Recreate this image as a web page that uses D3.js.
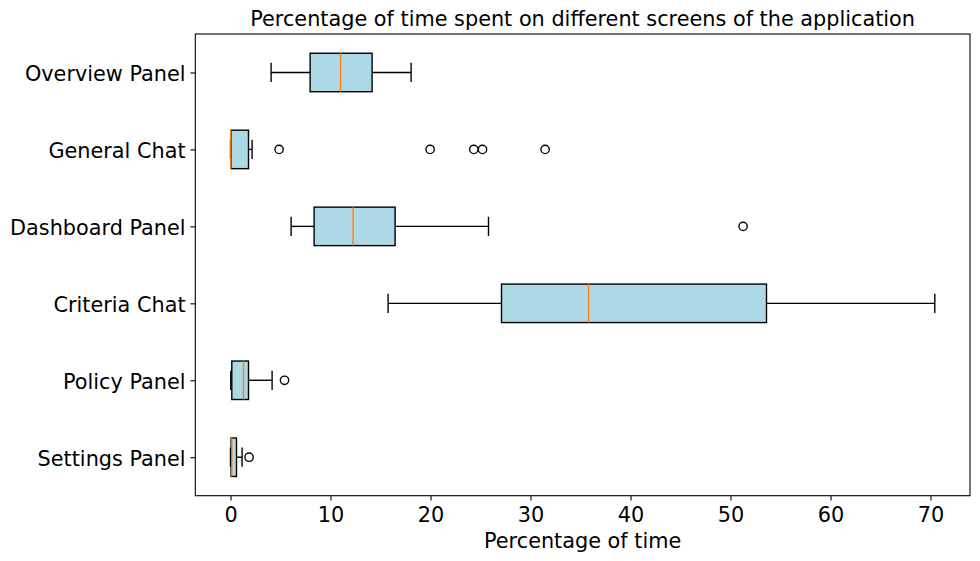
<!DOCTYPE html>
<html>
<head>
<meta charset="utf-8">
<script src="https://cdn.jsdelivr.net/npm/d3@7"></script>
<style>
  body { margin: 0; background: #fff; }
  svg { font-family: "DejaVu Sans", sans-serif; }
</style>
</head>
<body>
<svg id="chart" width="980" height="561"></svg>
<script>
// screens, listed top to bottom as drawn
const screens = ["Overview Panel", "General Chat", "Dashboard Panel",
  "Criteria Chat", "Policy Panel", "Settings Panel"];
const whiskerLow = [4.06, 0.0, 6.06, 15.76, 0.03, 0.0];
const q1 = [7.96, 0.06, 8.36, 27.1, 0.13, 0.06];
const median = [11.0, 0.03, 12.26, 35.8, 1.3, 0.13];
const q3 = [14.16, 1.8, 16.46, 53.6, 1.8, 0.6];
const whiskerHigh = [18.06, 2.16, 25.8, 70.43, 4.16, 1.16];
const outliers = [
  [],
  [4.86, 19.96, 24.33, 25.2, 31.46],
  [51.26],
  [],
  [5.4],
  [1.86],
];
const xTicks = [0, 10, 20, 30, 40, 50, 60, 70];

const margin = {top: 34, right: 10, bottom: 65.3, left: 195.3};
const width = 980;
const height = 561;
const fontPx = 20.8;

const svg = d3.select("#chart");

const x = d3.scaleLinear()
  .domain([-3.52, 73.95])
  .range([margin.left, width - margin.right]);

// position 1 is the bottom box, like matplotlib's vert=False
const y = d3.scaleLinear()
  .domain([0.5, 6.5])
  .range([height - margin.bottom, margin.top]);

const pos = (i) => screens.length - i;
const boxHalf = Math.abs(y(0.25) - y(0));
const capHalf = boxHalf / 2;
const lw = 1.39;

const boxes = svg.append("g");
screens.forEach((s, i) => {
  const cy = y(pos(i));
  const g = boxes.append("g");
  // whiskers
  g.append("line")
    .attr("x1", x(whiskerLow[i])).attr("x2", x(q1[i]))
    .attr("y1", cy).attr("y2", cy)
    .attr("stroke", "#000").attr("stroke-width", lw);
  g.append("line")
    .attr("x1", x(q3[i])).attr("x2", x(whiskerHigh[i]))
    .attr("y1", cy).attr("y2", cy)
    .attr("stroke", "#000").attr("stroke-width", lw);
  // caps
  [whiskerLow[i], whiskerHigh[i]].forEach((v) => {
    g.append("line")
      .attr("x1", x(v)).attr("x2", x(v))
      .attr("y1", cy - capHalf).attr("y2", cy + capHalf)
      .attr("stroke", "#000").attr("stroke-width", lw);
  });
  // box
  g.append("rect")
    .attr("x", x(q1[i]))
    .attr("y", cy - boxHalf)
    .attr("width", x(q3[i]) - x(q1[i]))
    .attr("height", 2 * boxHalf)
    .attr("fill", "#add8e6")
    .attr("stroke", "#000")
    .attr("stroke-width", lw);
  // median
  g.append("line")
    .attr("x1", x(median[i])).attr("x2", x(median[i]))
    .attr("y1", cy - boxHalf).attr("y2", cy + boxHalf)
    .attr("stroke", "#ff7f0e").attr("stroke-width", lw);
  // fliers
  outliers[i].forEach((v) => {
    g.append("circle")
      .attr("cx", x(v)).attr("cy", cy).attr("r", 4.17)
      .attr("fill", "none")
      .attr("stroke", "#000").attr("stroke-width", lw);
  });
});

// frame
svg.append("rect")
  .attr("x", margin.left).attr("y", margin.top)
  .attr("width", width - margin.right - margin.left)
  .attr("height", height - margin.bottom - margin.top)
  .attr("fill", "none").attr("stroke", "#000").attr("stroke-width", 1.1);

const xAxis = (g) => g
  .attr("transform", `translate(0,${height - margin.bottom})`)
  .call(d3.axisBottom(x).tickValues(xTicks).tickSize(4.86).tickPadding(4.86)
    .tickFormat(d3.format("d")))
  .call((g) => g.select(".domain").remove())
  .call((g) => g.selectAll("line").attr("stroke-width", 1.1))
  .call((g) => g.selectAll("text")
    .attr("font-size", fontPx).attr("font-family", "DejaVu Sans")
    .attr("dy", "0.78em").attr("fill", "#000"));

const yAxis = (g) => g
  .attr("transform", `translate(${margin.left},0)`)
  .call(d3.axisLeft(y).tickValues(screens.map((s, i) => pos(i)))
    .tickSize(4.86).tickPadding(4.86)
    .tickFormat((d) => screens[screens.length - d]))
  .call((g) => g.select(".domain").remove())
  .call((g) => g.selectAll("line").attr("stroke-width", 1.1))
  .call((g) => g.selectAll("text")
    .attr("font-size", fontPx).attr("font-family", "DejaVu Sans")
    .attr("dy", "0.4em").attr("fill", "#000"));

svg.append("g").call(xAxis);
svg.append("g").call(yAxis);

svg.append("text")
  .attr("x", (margin.left + width - margin.right) / 2)
  .attr("y", margin.top - 8.3)
  .attr("text-anchor", "middle")
  .attr("font-size", fontPx)
  .text("Percentage of time spent on different screens of the application");

svg.append("text")
  .attr("x", (margin.left + width - margin.right) / 2)
  .attr("y", 548)
  .attr("text-anchor", "middle")
  .attr("font-size", fontPx)
  .text("Percentage of time");
</script>
</body>
</html>
